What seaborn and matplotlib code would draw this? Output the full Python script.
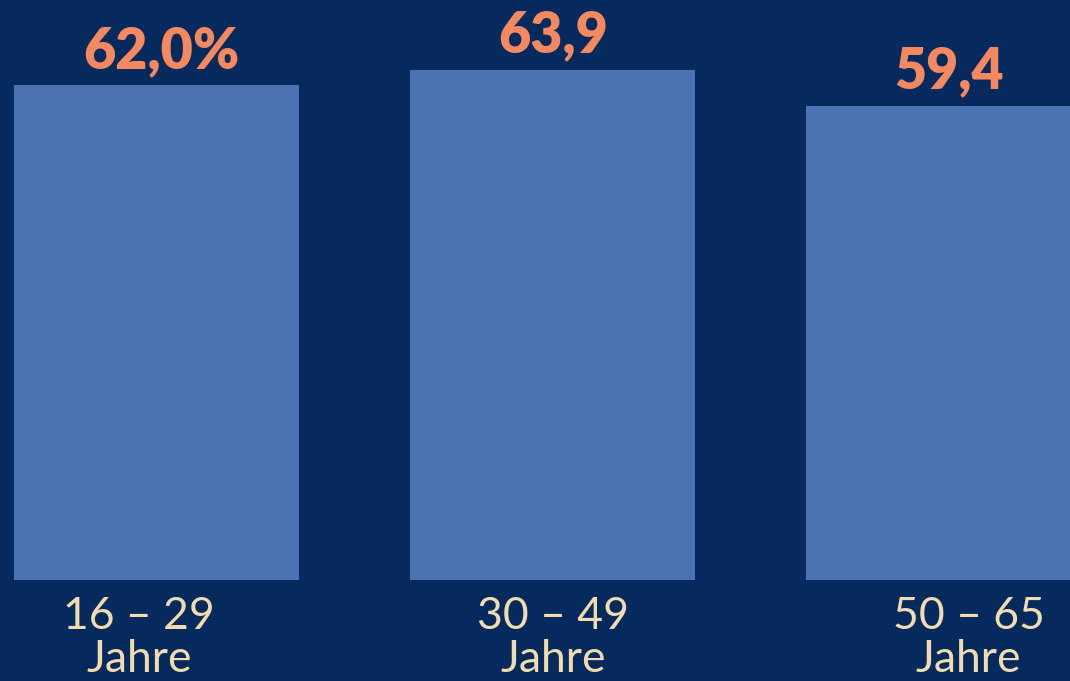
import matplotlib
matplotlib.use("Agg")
import matplotlib.pyplot as plt
import seaborn as sns
import pandas as pd

# Data
categories = ["16 – 29\nJahre", "30 – 49\nJahre", "50 – 65\nJahre"]
values = [62.0, 63.9, 59.4]
value_labels = ["62,0%", "63,9", "59,4"]

BG = "#072a5e"
BAR = "#4b73b4"
SALMON = "#f4895f"
BEIGE = "#f0dcae"

sns.set_theme(style="white")
plt.rcParams["font.family"] = ["Lato", "DejaVu Sans"]

df = pd.DataFrame({"group": categories, "value": values})

fig = plt.figure(figsize=(10.7, 6.81), dpi=100)
fig.patch.set_facecolor(BG)
ax = fig.add_axes([0, 0, 1, 1])
ax.set_facecolor(BG)

sns.barplot(data=df, x="group", y="value", color=BAR, width=0.72,
            saturation=1, linewidth=0, edgecolor=BAR, ax=ax)

ax.set_xlim(-0.396, 2.306)
ax.set_ylim(-12.66, 72.68)
ax.axis("off")

# value labels above bars
for i, (v, lab) in enumerate(zip(values, value_labels)):
    ax.annotate(lab, xy=(i, v), xytext=(3 if i == 0 else 0, 6),
                textcoords="offset points", ha="center", va="bottom",
                fontsize=40, fontweight="heavy", color=SALMON)

# category labels below bars
label_shift = [-0.045, 0.0, 0.05]
for i, cat in enumerate(categories):
    ax.text(i + label_shift[i], -1.95, cat, ha="center", va="top",
            fontsize=32, fontweight="normal", color=BEIGE, linespacing=1.08)

fig.savefig("out.png", dpi=100, facecolor=BG)
